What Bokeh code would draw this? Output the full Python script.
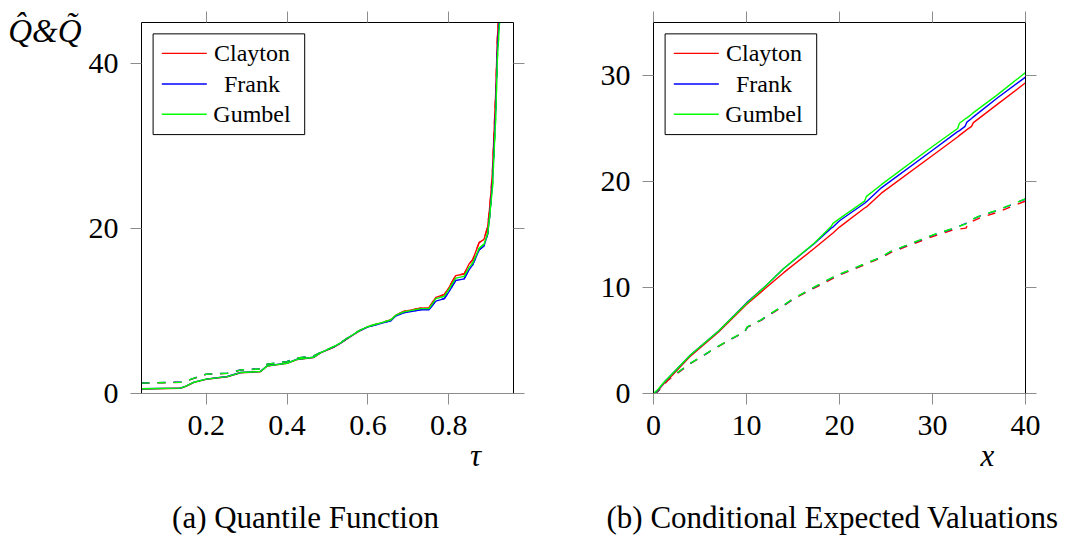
from bokeh.plotting import figure
from bokeh.layouts import row
from bokeh.models import Range1d, LinearAxis, FixedTicker
from bokeh.core.properties import value
from bokeh.embed import file_html
from bokeh.resources import INLINE

# ---------------- data: panel (a) quantile function ----------------
tau = [0.04, 0.136, 0.15, 0.17, 0.2, 0.252, 0.285, 0.334, 0.351, 0.4,
       0.425, 0.466, 0.483, 0.516, 0.533, 0.549, 0.578, 0.599, 0.656, 0.669,
       0.689, 0.731, 0.751, 0.768, 0.789, 0.801, 0.817, 0.838, 0.85, 0.859,
       0.875, 0.887, 0.896, 0.9, 0.904, 0.908, 0.916, 0.92, 0.926, 0.932]

q_hat_clayton = [0.55, 0.63, 0.88, 1.35, 1.72, 2.03, 2.52, 2.64, 3.33, 3.65,
                 4.12, 4.37, 4.93, 5.62, 6.12, 6.66, 7.57, 8.08, 8.9, 9.5,
                 9.95, 10.35, 10.4, 11.65, 12.0, 12.9, 14.3, 14.5, 15.7, 16.2,
                 18.3, 18.7, 20.2, 22.0, 24.2, 27.0, 36.5, 43.0, 48.0, 51.0]
q_hat_frank = [0.57, 0.65, 0.9, 1.38, 1.75, 2.06, 2.55, 2.68, 3.36, 3.68,
               4.16, 4.4, 4.95, 5.65, 6.14, 6.68, 7.58, 8.05, 8.8, 9.4,
               9.8, 10.15, 10.15, 11.2, 11.5, 12.4, 13.7, 13.9, 15.0, 15.6,
               17.4, 17.9, 19.3, 21.0, 23.2, 25.5, 34.5, 41.5, 46.5, 50.0]
q_hat_gumbel = [0.57, 0.65, 0.9, 1.37, 1.74, 2.05, 2.54, 2.66, 3.35, 3.67,
                4.15, 4.4, 4.96, 5.68, 6.16, 6.7, 7.6, 8.1, 8.9, 9.5,
                9.9, 10.3, 10.3, 11.5, 11.8, 12.7, 14.0, 14.2, 15.3, 15.8,
                17.6, 18.1, 19.4, 21.0, 23.0, 25.0, 33.5, 40.5, 45.5, 49.0]

q_tilde_clayton = [1.24, 1.35, 1.48, 1.84, 2.32, 2.44, 2.84, 2.96, 3.53, 3.85,
                   4.28, 4.52, 4.97, 5.64, 6.14, 6.68, 7.59, 8.1, 8.92, 9.52,
                   9.97, 10.37, 10.42, 11.67, 12.02, 12.92, 14.32, 14.52, 15.72, 16.22,
                   18.32, 18.72, 20.22, 22.0, 24.2, 27.0, 36.5, 43.0, 48.0, 51.0]
q_tilde_frank = [1.27, 1.38, 1.51, 1.87, 2.35, 2.47, 2.87, 2.99, 3.56, 3.88,
                 4.31, 4.55, 4.98, 5.67, 6.16, 6.7, 7.6, 8.07, 8.82, 9.42,
                 9.82, 10.17, 10.17, 11.22, 11.52, 12.42, 13.72, 13.92, 15.02, 15.62,
                 17.42, 17.92, 19.32, 21.0, 23.2, 25.5, 34.5, 41.5, 46.5, 50.0]
q_tilde_gumbel = [1.26, 1.37, 1.5, 1.86, 2.34, 2.46, 2.86, 2.98, 3.55, 3.87,
                  4.3, 4.55, 5.0, 5.7, 6.2, 6.72, 7.62, 8.12, 8.92, 9.52,
                  9.92, 10.32, 10.32, 11.52, 11.82, 12.72, 14.02, 14.22, 15.32, 15.82,
                  17.62, 18.12, 19.42, 21.02, 23.02, 25.02, 33.5, 40.5, 45.5, 49.0]

tau_ticks = [0.2, 0.4, 0.6, 0.8]
q_ticks = [0, 20, 40]
tau_label_at = 0.866      # where the axis name sits along the tau axis
q_label_at = 44           # where the axis name sits along the Q axis
caption_a_at = 0.4456     # where the caption is centred along the tau axis

# ---------------- data: panel (b) conditional expected valuations ----------------
x_solid = [0, 0.45, 1.2, 2, 4, 7, 10, 12, 14, 17.3, 19.1, 19.3, 20, 22.7, 22.9,
           24.5, 30, 32.7, 32.9, 33.5, 33.7, 34.2, 34.4, 37, 40]
ev_clayton = [0, 0.25, 1.0, 1.7, 3.55, 5.8, 8.4, 9.9, 11.4, 13.7, 15.0, 15.15, 15.7, 17.5, 17.6,
              18.9, 22.45, 24.2, 24.35, 24.75, 24.9, 25.2, 25.55, 27.3, 29.31]
ev_frank = [0, 0.3, 1.1, 1.85, 3.65, 5.9, 8.55, 10.1, 11.8, 14.15, 15.6, 15.7, 16.3, 17.95, 18.1,
            19.4, 22.95, 24.7, 24.8, 25.2, 25.6, 25.95, 26.1, 27.9, 29.85]
ev_gumbel = [0, 0.35, 1.13, 1.85, 3.65, 5.9, 8.5, 10.1, 11.8, 14.2, 15.75, 16.05, 16.5, 18.15, 18.6,
             19.7, 23.3, 25.0, 25.5, 25.9, 26.0, 26.35, 26.5, 28.2, 30.28]

x_dashed = [0, 0.45, 1.5, 4, 6.9, 8.3, 9.8, 10.1, 11.56, 14.06, 15.1, 16.75, 18.4,
            19.8, 21.2, 22.7, 24.5, 25.5, 30, 32.3, 33.6, 33.9, 35.2, 37, 38.4, 40]
ev2_clayton = [0, 0.15, 1.2, 2.85, 4.4, 5.1, 5.8, 6.25, 6.9, 8.3, 8.95, 9.7, 10.45,
               11.1, 11.6, 12.15, 12.8, 13.3, 14.8, 15.45, 15.6, 16.1, 16.6, 17.1, 17.6, 18.15]
ev2_frank = [0, 0.18, 1.28, 2.86, 4.42, 5.12, 5.83, 6.28, 6.93, 8.35, 8.98, 9.76, 10.55,
             11.18, 11.65, 12.22, 12.85, 13.38, 14.92, 15.58, 16.05, 16.28, 16.78, 17.28, 17.78, 18.35]
ev2_gumbel = [0, 0.2, 1.3, 2.87, 4.43, 5.13, 5.85, 6.3, 6.95, 8.37, 9.0, 9.78, 10.57,
              11.2, 11.67, 12.24, 12.87, 13.4, 14.95, 15.6, 16.0, 16.3, 16.8, 17.3, 17.8, 18.37]

x_ticks_b = [0, 10, 20, 30, 40]
y_ticks_b = [0, 10, 20, 30]
x_label_at = 35.9
caption_b_at = 19.25

names = ["Clayton", "Frank", "Gumbel"]

# ---------------- styling / layout (pixels) ----------------
FONT = "Liberation Serif"
TICK_GRAY = "#8c8c8c"
COLORS = ["#ff0000", "#0000ff", "#00ff00"]
LW = 1.4
H = 537
TOP = 22
FRAME_W = 372
FRAME_H = 372
BOTTOM = H - TOP - FRAME_H
# legend geometry in pixels, measured from the frame's top-left corner
LEG_LEFT, LEG_RIGHT, LEG_TOP, LEG_BOTTOM = 11.6, 163.2, 11.4, 112.4
LEG_LINE_X0, LEG_LINE_X1 = 20.3, 65.3
LEG_TEXT_CX = 110.5
LEG_ROWS = [31.0, 61.7, 92.0]


def make_fig(width, left, right, xr, yr):
    p = figure(width=width, height=H, output_backend="svg", toolbar_location=None,
               x_range=Range1d(*xr), y_range=Range1d(*yr),
               min_border_left=left, min_border_right=right,
               min_border_top=TOP, min_border_bottom=BOTTOM,
               x_axis_location=None, y_axis_location=None)
    p.outline_line_color = None
    p.grid.visible = False
    p.background_fill_color = "white"
    p.border_fill_color = "white"
    return p


def add_axis(p, side, ticks, labels, line_color):
    ax = LinearAxis(ticker=FixedTicker(ticks=ticks, minor_ticks=[]))
    ax.axis_line_color = line_color
    ax.axis_line_width = 1
    ax.major_tick_line_color = TICK_GRAY
    ax.major_tick_line_width = 1
    ax.major_tick_out = 11
    ax.major_tick_in = 0
    ax.minor_tick_line_color = None
    if labels:
        ax.major_label_text_font = FONT
        ax.major_label_text_font_size = "30px"
        ax.major_label_text_color = "black"
        ax.major_label_standoff = 12 if side == "left" else 11
    else:
        ax.major_label_text_color = None
        ax.major_label_text_font_size = "4px"
        ax.major_label_standoff = 0
    p.add_layout(ax, side)


def add_text_axis(p, side, at, text, standoff, size, style):
    """An axis without line or ticks whose single label carries a name or caption."""
    ax = LinearAxis(ticker=FixedTicker(ticks=[at], minor_ticks=[]),
                    major_label_overrides={at: text})
    ax.axis_line_color = None
    ax.major_tick_line_color = None
    ax.minor_tick_line_color = None
    ax.major_tick_out = 0
    ax.major_tick_in = 0
    ax.major_label_text_font = FONT
    ax.major_label_text_font_size = size
    ax.major_label_text_font_style = style
    ax.major_label_text_color = "black"
    ax.major_label_standoff = standoff
    p.add_layout(ax, side)


def to_data(p, sx, sy):
    xr, yr = p.x_range, p.y_range
    x = xr.start + sx / FRAME_W * (xr.end - xr.start)
    y = yr.end - sy / FRAME_H * (yr.end - yr.start)
    return x, y


def add_legend(p):
    x0, y0 = to_data(p, LEG_LEFT, LEG_TOP)
    x1, y1 = to_data(p, LEG_RIGHT, LEG_BOTTOM)
    p.quad(left=[x0], right=[x1], top=[y0], bottom=[y1],
           fill_color="white", line_color="black", line_width=1)
    lx0 = to_data(p, LEG_LINE_X0, 0)[0]
    lx1 = to_data(p, LEG_LINE_X1, 0)[0]
    ly = [to_data(p, 0, r)[1] for r in LEG_ROWS]
    for yy, c in zip(ly, COLORS):
        p.line([lx0, lx1], [yy, yy], line_color=c, line_width=LW)
    tx = [to_data(p, LEG_TEXT_CX, 0)[0]] * len(names)
    p.text(x=tx, y=ly, text=names, text_font=value(FONT), text_font_size="24px",
           text_align="center", text_baseline="middle", text_color="black")


# ---------------- panel (a) ----------------
pa = make_fig(582, 141, 69, (0.04, 0.96), (0, 45))
add_axis(pa, "left", q_ticks, True, "black")
add_text_axis(pa, "left", q_label_at, "Q\u0302&Q\u0303", 4, "33px", "italic")
add_axis(pa, "right", q_ticks, False, "black")
add_axis(pa, "above", tau_ticks, False, "black")
add_axis(pa, "below", tau_ticks, True, TICK_GRAY)
add_text_axis(pa, "below", tau_label_at, "τ", 0, "31px", "italic")
add_text_axis(pa, "below", caption_a_at, "(a) Quantile Function", 24, "31px", "normal")

for vals, c in zip([q_tilde_clayton, q_tilde_frank, q_tilde_gumbel], COLORS):
    pa.line(tau, vals, line_color=c, line_width=LW, line_dash="8 8")
for vals, c in zip([q_hat_clayton, q_hat_frank, q_hat_gumbel], COLORS):
    pa.line(tau, vals, line_color=c, line_width=LW)
add_legend(pa)

# ---------------- panel (b) ----------------
pb = make_fig(483, 71, 40, (0, 40), (0, 35))
add_axis(pb, "left", y_ticks_b, True, "black")
add_axis(pb, "right", y_ticks_b, False, "black")
add_axis(pb, "above", x_ticks_b, False, "black")
add_axis(pb, "below", x_ticks_b, True, TICK_GRAY)
add_text_axis(pb, "below", x_label_at, "x", 0, "31px", "italic")
add_text_axis(pb, "below", caption_b_at, "(b) Conditional Expected Valuations", 24, "31px", "normal")

for vals, c in zip([ev2_clayton, ev2_frank, ev2_gumbel], COLORS):
    pb.line(x_dashed, vals, line_color=c, line_width=LW, line_dash="8 8")
for vals, c in zip([ev_clayton, ev_frank, ev_gumbel], COLORS):
    pb.line(x_solid, vals, line_color=c, line_width=LW)
add_legend(pb)

layout = row(pa, pb, spacing=0)
open("out.html", "w").write(file_html(layout, INLINE))
